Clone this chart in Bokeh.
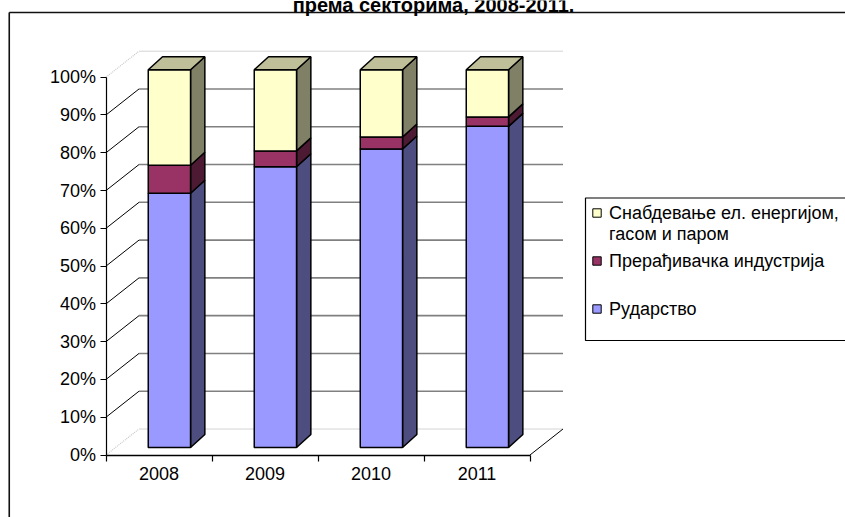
import numpy as np
from bokeh.plotting import figure
from bokeh.models import (LinearAxis, FixedTicker, ColumnDataSource, Range1d,
                          PrintfTickFormatter)
from bokeh.core.properties import value
from bokeh.embed import file_html
from bokeh.resources import INLINE

# ---------------- data ----------------
years = ["2008", "2009", "2010", "2011"]
series_names = ["Рударство", "Прерађивачка индустрија", "Снабдевање ел. енергијом,\nгасом и паром"]
mining = [67.3, 74.3, 79.0, 85.0]
manufacturing = [7.4, 4.2, 3.2, 2.5]
energy = [25.3, 21.5, 17.8, 12.5]
y_ticks = [0, 10, 20, 30, 40, 50, 60, 70, 80, 90, 100]
title_tail = "према секторима, 2008-2011."

front_colors = ["#9999FF", "#993366", "#FFFFCC"]
side_colors = ["#4D4D80", "#4D1A33", "#808066"]
top_colors = ["#7373BF", "#73264D", "#BFBF99"]

# ---------------- layout (pixels) ----------------
W, H = 845, 517
PAGE_X0, PAGE_Y0 = 0, 0          # canvas origin in the picture
AX_X, AX_Y = 105.5, 454.5        # picture position of category start / 0 %
PX_CAT, PX_PCT = 106.0, 3.778


def px(xpage):
    return (xpage - AX_X) / PX_CAT


def py(ypage):
    return (AX_Y - ypage) / PX_PCT


x_range = Range1d(px(PAGE_X0), px(PAGE_X0 + W))
y_range = Range1d(py(PAGE_Y0 + H), py(PAGE_Y0))

# 3D offsets in data units
dxw, dyw = 33 / PX_CAT, 26 / PX_PCT      # back wall depth
dxf, dyf = 10.4 / PX_CAT, 7.5 / PX_PCT   # bar front plane
dxd, dyd = 14.3 / PX_CAT, 13 / PX_PCT    # bar depth
bw = 42.3 / PX_CAT                        # bar width

FONT_NAME = "Liberation Sans"
FONT = value(FONT_NAME)

p = figure(width=W, height=H, x_range=x_range, y_range=y_range,
           output_backend="svg", toolbar_location=None, min_border=0,
           x_axis_type=None, y_axis_type=None)
p.outline_line_color = None
p.background_fill_color = "white"

ncat = len(years)
inner = [t for t in y_ticks if 0 < t < 100]
edges = [y_ticks[0], y_ticks[-1]]

# back wall gridlines
p.segment(x0=[dxw] * len(inner), y0=[t + dyw for t in inner],
          x1=[ncat + dxw] * len(inner), y1=[t + dyw for t in inner],
          line_color="#808080", line_width=1.6)
p.segment(x0=[dxw] * 2, y0=[t + dyw for t in edges],
          x1=[ncat + dxw] * 2, y1=[t + dyw for t in edges],
          line_color="#D4D4D4", line_width=1)
# left wall diagonals
p.segment(x0=[0] * len(inner), y0=inner, x1=[dxw] * len(inner),
          y1=[t + dyw for t in inner], line_color="black", line_width=1)
p.segment(x0=[0] * 2, y0=edges, x1=[dxw] * 2, y1=[t + dyw for t in edges],
          line_color="#C8C8C8", line_width=1.2, line_dash="1 1")
# floor right edge
p.segment(x0=[ncat], y0=[0], x1=[ncat + dxw], y1=[dyw], line_color="black", line_width=1)

# ---------------- bars ----------------
series = [mining, manufacturing, energy]
bottoms = np.zeros(ncat)
fronts, sides = [], []
for k, vals in enumerate(series):
    vals = np.array(vals, dtype=float)
    tops = bottoms + vals
    x0 = np.arange(ncat) + 0.5 - bw / 2 + dxf
    x1 = x0 + bw
    y0 = bottoms + dyf
    y1 = tops + dyf
    sides.append(dict(xs=[[a, a + dxd, a + dxd, a] for a in x1],
                      ys=[[b, b + dyd, c + dyd, c] for b, c in zip(y0, y1)]))
    fronts.append(dict(left=x0, right=x1, bottom=y0, top=y1))
    if k == len(series) - 1:
        top_face = dict(xs=[[a, b, b + dxd, a + dxd] for a, b in zip(x0, x1)],
                        ys=[[c, c, c + dyd, c + dyd] for c in y1])
    bottoms = tops

for k in range(len(series)):
    p.patches(xs="xs", ys="ys", source=ColumnDataSource(sides[k]),
              fill_color=side_colors[k], line_color="black", line_width=1.5)
for k in range(len(series)):
    p.quad(source=ColumnDataSource(fronts[k]), left="left", right="right",
           bottom="bottom", top="top", fill_color=front_colors[k],
           line_color="black", line_width=1.5)
p.patches(xs="xs", ys="ys", source=ColumnDataSource(top_face),
          fill_color=top_colors[-1], line_color="black", line_width=1.5)

# ---------------- axes ----------------
yaxis = LinearAxis(fixed_location=0, bounds=(0, 100),
                   ticker=FixedTicker(ticks=y_ticks),
                   formatter=PrintfTickFormatter(format="%d%%"),
                   major_tick_out=6, major_tick_in=0,
                   minor_tick_out=0, minor_tick_in=0,
                   major_label_standoff=4,
                   major_label_text_font=FONT_NAME,
                   major_label_text_font_size="18px",
                   major_label_text_color="black",
                   axis_line_color="black", axis_line_width=1.2,
                   major_tick_line_color="black", major_tick_line_width=1.2)
p.add_layout(yaxis, "left")

xaxis = LinearAxis(fixed_location=0, bounds=(0, ncat),
                   ticker=FixedTicker(ticks=[i + 0.5 for i in range(ncat)],
                                      minor_ticks=list(range(ncat + 1))),
                   major_label_overrides={i + 0.5: yv for i, yv in enumerate(years)},
                   major_tick_out=0, major_tick_in=0,
                   minor_tick_out=6, minor_tick_in=0,
                   major_label_standoff=6,
                   major_label_text_font=FONT_NAME,
                   major_label_text_font_size="18px",
                   major_label_text_color="black",
                   axis_line_color="black", axis_line_width=1.6,
                   minor_tick_line_color="black", minor_tick_line_width=1.2)
p.add_layout(xaxis, "below")

# ---------------- legend (drawn) ----------------
LEG_L, LEG_T, LEG_B = 585, 197.5, 340
p.quad(left=[px(LEG_L)], right=[px(PAGE_X0 + W + 40)], top=[py(LEG_T)], bottom=[py(LEG_B)],
       fill_color="white", line_color="black", line_width=1.2)
item_rows = [212.5, 260.5, 308.5]   # picture y of first line of each entry
legend_order = [2, 1, 0]
sq = 8.4
for row_y, k in zip(item_rows, legend_order):
    p.quad(left=[px(592.3)], right=[px(592.3 + sq)], top=[py(row_y - sq / 2)],
           bottom=[py(row_y + sq / 2)], fill_color=front_colors[k],
           line_color="black", line_width=1)
    for j, line in enumerate(series_names[k].split("\n")):
        p.text(x=[px(608.5)], y=[py(row_y + j * 20.5)], text=[line],
               text_font=FONT, text_font_size="18px", text_color="black",
               text_align="left", text_baseline="middle")

# ---------------- outer chart border & clipped title ----------------
p.segment(x0=[px(8.75)], y0=[py(12)], x1=[px(PAGE_X0 + W + 40)], y1=[py(12)],
          line_color="#111111", line_width=1.6)
p.segment(x0=[px(8.75)], y0=[py(12)], x1=[px(8.75)], y1=[py(PAGE_Y0 + H + 40)],
          line_color="#111111", line_width=1.6)
p.text(x=[px(433)], y=[py(4.5)], text=[title_tail], text_font=FONT,
       text_font_size="20px", text_font_style="bold", text_color="black",
       text_align="center", text_baseline="alphabetic")

open("out.html", "w").write(file_html(p, INLINE))
